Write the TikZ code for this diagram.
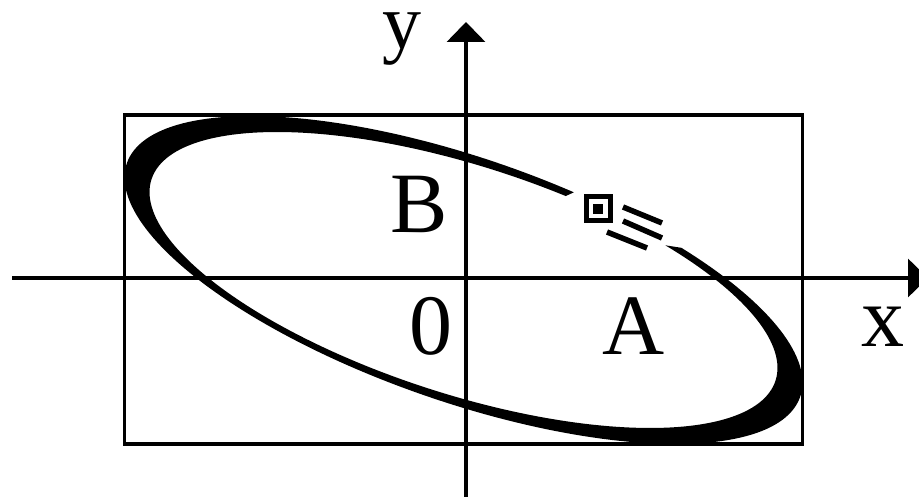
\documentclass[tikz,border=0pt]{standalone}
\usepackage{fontspec}
\setmainfont{Liberation Serif}
\usetikzlibrary{arrows.meta}
\begin{document}
\begin{tikzpicture}[x=1pt,y=1pt,
  axisline/.style={line width=3.5pt,-{Triangle[length=20pt,width=38pt]}},
  framebox/.style={line width=3.5pt},
  orbit/.style={fill=black},
  motion/.style={line width=5.5pt},
  lbl/.style={inner sep=0pt,anchor=base,font=\fontsize{86}{90}\selectfont}]
\useasboundingbox (0,0) rectangle (919,500);
% frame
\draw[framebox] (124.5,56) rectangle (802.5,385);
% axes
\coordinate (xs) at (12,222);
\coordinate (xe) at (928,222);
\coordinate (ys) at (466,3);
\coordinate (ye) at (466,478);
\draw[axisline] (xs) -- (xe);
\draw[axisline] (ys) -- (ye);
% orbit (ellipse with a gap)
\begin{scope}[shift={(463.5,220)}]
\fill[orbit] plot[domain=71:410,samples=200] ({339*cos(\x)},{-164*cos(\x+51.32)})
  -- plot[domain=410:71,samples=200] ({314*cos(\x)},{-148*cos(\x+53.56)}) -- cycle;
\end{scope}
% moving point
\node[draw,line width=5pt,minimum size=24pt,inner sep=0pt] (pt) at (598,291) {};
\fill (pt.center) +(-5,-5) rectangle +(5,5);
\coordinate (m1a) at (623,293); \coordinate (m1b) at (662,277);
\coordinate (m2a) at (623,279); \coordinate (m2b) at (662,262);
\coordinate (m3a) at (607,268); \coordinate (m3b) at (647,252);
\draw[motion] (m1a) -- (m1b);
\draw[motion] (m2a) -- (m2b);
\draw[motion] (m3a) -- (m3b);
% labels
\node[lbl,font=\fontsize{78}{82}\selectfont] (ly) at (402,451) {y};
\node[lbl] (lb) at (419,267) {B};
\node[lbl] (lo) at (431,145) {0};
\node[lbl] (la) at (634,145) {A};
\node[lbl] (lx) at (883,153) {x};
\end{tikzpicture}
\end{document}
